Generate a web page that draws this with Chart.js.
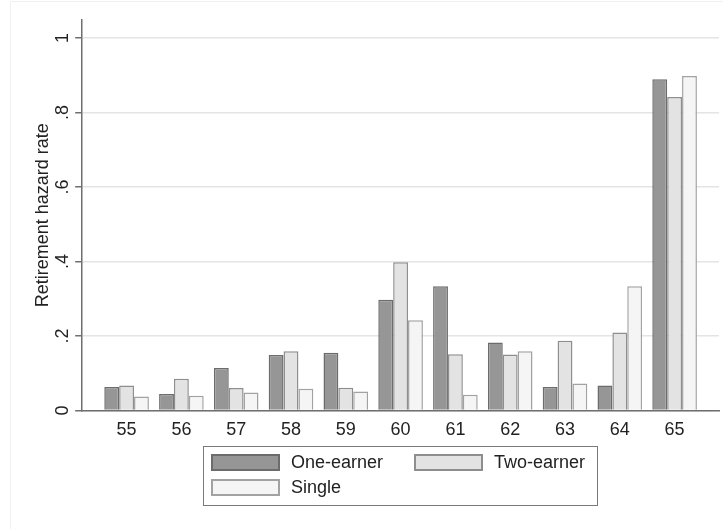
<!DOCTYPE html>
<html>
<head>
<meta charset="utf-8">
<script src="https://cdn.jsdelivr.net/npm/chart.js@4/dist/chart.umd.min.js"></script>
<style>
  html, body { margin: 0; padding: 0; background: #fff; overflow: hidden; }
  #wrap { position: relative; width: 723px; height: 529px; font-family: "Liberation Sans", Arial, sans-serif; }
  #frame { position: absolute; left: 10px; top: 1px; width: 800px; height: 600px; border: 1px solid #f1f1f1; }
  #chart { position: absolute; left: 0; top: 0; }
  #legend { position: absolute; left: 203px; top: 446px; width: 393px; height: 58px; border: 1.5px solid #7a7a7a; }
  .item { position: absolute; height: 17px; display: flex; align-items: center; font-size: 18px; color: #222; white-space: nowrap; }
  .sw { width: 65px; height: 13px; border: 2px solid; margin-right: 11px; }
</style>
</head>
<body>
<div id="wrap">
  <div id="frame"></div>
  <canvas id="chart" width="723" height="529"></canvas>
  <div id="legend"></div>
</div>
<script>
// ---- data ----
const ages = [55, 56, 57, 58, 59, 60, 61, 62, 63, 64, 65];
const oneEarner = [0.063, 0.044, 0.114, 0.149, 0.155, 0.297, 0.333, 0.182, 0.063, 0.067, 0.889];
const twoEarner = [0.067, 0.085, 0.060, 0.159, 0.061, 0.398, 0.151, 0.150, 0.187, 0.209, 0.841];
const single    = [0.037, 0.039, 0.048, 0.058, 0.051, 0.242, 0.042, 0.159, 0.072, 0.333, 0.898];
const seriesNames = ['One-earner', 'Two-earner', 'Single'];
const yTicks = [0, 0.2, 0.4, 0.6, 0.8, 1];
const yTickLabels = ['0', '.2', '.4', '.6', '.8', '1'];

const fills = ['#969696', '#e3e3e3', '#f5f5f5'];
const borders = ['#6c6c6c', '#8e8e8e', '#a2a2a2'];
const fontFam = '"Liberation Sans", Arial, sans-serif';

const ctx = document.getElementById('chart').getContext('2d');
const chart = new Chart(ctx, {
    type: 'bar',
    data: {
        labels: ages,
        datasets: [oneEarner, twoEarner, single].map((d, i) => ({
            label: seriesNames[i],
            data: d,
            backgroundColor: fills[i],
            borderColor: borders[i],
            borderWidth: 1.5,
            borderSkipped: 'bottom',
            categoryPercentage: 0.814,
            barPercentage: 1
        }))
    },
    options: {
        responsive: false,
        animation: false,
        layout: { padding: { left: 32, right: 4, top: 20, bottom: 79 } },
        plugins: { legend: { display: false }, tooltip: { enabled: false } },
        scales: {
            x: {
                type: 'linear',
                offset: false,
                min: 54.19,
                max: 65.81,
                afterBuildTicks: (s) => { s.ticks = ages.map(v => ({ value: v })); },
                grid: { display: false, drawTicks: false },
                border: { display: true, color: '#6f6f6f', width: 1.5 },
                ticks: {
                    padding: 9,
                    color: '#222',
                    font: { family: fontFam, size: 18 },
                    callback: (v) => String(v)
                }
            },
            y: {
                min: 0,
                max: 1.048,
                afterBuildTicks: (s) => { s.ticks = yTicks.map(v => ({ value: v })); },
                grid: { color: '#e4e4e4', lineWidth: 1.5, tickLength: 7, tickColor: '#6f6f6f', tickWidth: 1.5 },
                border: { display: true, color: '#6f6f6f', width: 1.5 },
                ticks: {
                    padding: 5,
                    color: '#222',
                    minRotation: 90,
                    maxRotation: 90,
                    crossAlign: 'center',
                    font: { family: fontFam, size: 18 },
                    callback: (v) => yTickLabels[yTicks.indexOf(v)] ?? ''
                },
                title: {
                    display: true,
                    text: 'Retirement hazard rate',
                    color: '#222',
                    font: { family: fontFam, size: 18 },
                    padding: { top: 0, bottom: -10 }
                }
            }
        }
    }
});

// ---- legend (two columns like the original) ----
const legendPos = [[7, 7], [210, 7], [7, 32]];
const $legend = document.getElementById('legend');
chart.data.datasets.forEach((ds, i) => {
    const item = document.createElement('div');
    item.className = 'item';
    item.style.left = legendPos[i][0] + 'px';
    item.style.top = legendPos[i][1] + 'px';
    item.innerHTML = `<span class="sw" style="background:${ds.backgroundColor};border-color:${ds.borderColor}"></span>${ds.label}`;
    $legend.appendChild(item);
});
</script>
</body>
</html>
